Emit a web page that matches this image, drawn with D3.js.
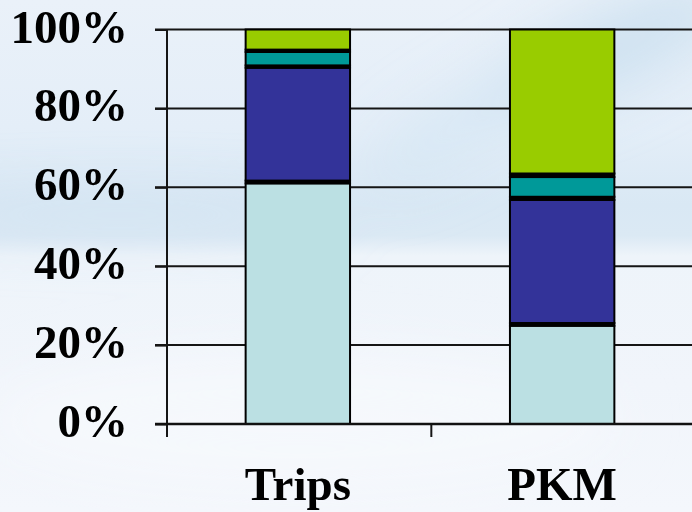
<!DOCTYPE html>
<html>
<head>
<meta charset="utf-8">
<script src="https://cdn.jsdelivr.net/npm/d3@7"></script>
<style>
  html, body { margin: 0; padding: 0; background: #f2f6fb; }
  svg { display: block; }
</style>
</head>
<body>
<svg id="chart" width="692" height="512"></svg>
<script>
// Categories along the x axis
const categories = ["Trips", "PKM"];

// Stack segments, bottom to top (shares in percent)
const seriesNames = ["s1", "s2", "s3", "s4", "s5", "s6", "s7"];
const seriesColors = ["#BBE0E3", "#000000", "#333399", "#000000", "#009999", "#000000", "#99CC00"];
const tripsValues = [61.0, 0.7, 28.6, 0.6, 3.4, 0.6, 5.1];
const pkmValues   = [24.9, 0.7, 31.2, 0.8, 5.0, 0.9, 36.5];

// Y axis tick values and labels
const yTicks = [0, 20, 40, 60, 80, 100];
const yTickLabels = ["0%", "20%", "40%", "60%", "80%", "100%"];

const valuesByCategory = { "Trips": tripsValues, "PKM": pkmValues };
const rows = categories.map(c => {
  const row = { category: c };
  seriesNames.forEach((s, i) => { row[s] = valuesByCategory[c][i]; });
  return row;
});

const svg = d3.select("#chart");
const W = 692, H = 512;
const labelFont = "'Liberation Serif', 'Times New Roman', serif";

// ---- soft slide-style backdrop ----
const defs = svg.append("defs");
const bg = defs.append("linearGradient").attr("id", "bg").attr("x1", 0).attr("y1", 0).attr("x2", 0).attr("y2", 1);
[[0, "#eaf1f9"], [0.25, "#e4eef8"], [0.40, "#d9e8f4"], [0.46, "#dbe9f4"], [0.50, "#eef4fa"], [0.75, "#f1f5fb"], [1, "#f4f7fc"]]
  .forEach(([o, c]) => bg.append("stop").attr("offset", o).attr("stop-color", c));
defs.append("filter").attr("id", "soft").attr("x", "-50%").attr("y", "-50%").attr("width", "200%").attr("height", "200%")
  .append("feGaussianBlur").attr("stdDeviation", 28);

svg.append("rect").attr("width", W).attr("height", H).attr("fill", "url(#bg)");
const haze = svg.append("g").attr("filter", "url(#soft)");
haze.append("ellipse").attr("cx", 610).attr("cy", 50).attr("rx", 140).attr("ry", 40)
  .attr("transform", "rotate(-25 610 50)").attr("fill", "#c9dfef").attr("opacity", 0.8);
haze.append("ellipse").attr("cx", 470).attr("cy", 120).attr("rx", 120).attr("ry", 30)
  .attr("transform", "rotate(-30 470 120)").attr("fill", "#d3e6f3").attr("opacity", 0.7);
haze.append("ellipse").attr("cx", 120).attr("cy", 215).attr("rx", 220).attr("ry", 18)
  .attr("fill", "#d2e4f2").attr("opacity", 0.8);
haze.append("ellipse").attr("cx", 300).attr("cy", 420).attr("rx", 320).attr("ry", 70)
  .attr("fill", "#f6f9fd").attr("opacity", 0.8);

// ---- scales ----
const plotLeft = 167, plotRight = 693, plotTop = 29.5, plotBottom = 424;
const x = d3.scaleBand().domain(categories).range([plotLeft, plotRight])
  .paddingInner(0.605).paddingOuter(0.2975);
const y = d3.scaleLinear().domain([0, 100]).range([plotBottom, plotTop]);

// ---- gridlines (drawn under the bars) ----
svg.append("g")
  .selectAll("line").data(yTicks).join("line")
  .attr("x1", 155).attr("x2", W)
  .attr("y1", d => y(d)).attr("y2", d => y(d))
  .attr("stroke", "#151515").attr("stroke-width", 2);

// ---- stacked bars ----
const stack = d3.stack().keys(seriesNames);
const layers = stack(rows);
svg.append("g")
  .selectAll("g").data(layers).join("g")
  .attr("fill", (d, i) => seriesColors[i])
  .selectAll("rect").data(d => d).join("rect")
  .attr("x", d => x(d.data.category))
  .attr("width", x.bandwidth())
  .attr("y", d => y(d[1]))
  .attr("height", d => y(d[0]) - y(d[1]))
  .attr("stroke", "#000").attr("stroke-width", 2);

// ---- y axis ----
const yAxis = d3.axisLeft(y).tickValues(yTicks)
  .tickFormat((d, i) => yTickLabels[i]).tickSize(12).tickPadding(27);
const gy = svg.append("g").attr("transform", `translate(${plotLeft},0)`).call(yAxis);
gy.select(".domain").remove();
gy.selectAll(".tick line").attr("stroke", "#151515").attr("stroke-width", 2);
gy.selectAll(".tick text")
  .attr("font-family", labelFont)
  .attr("font-weight", "bold").attr("font-size", 47).attr("fill", "#000")
  .attr("dy", 12.5);
svg.append("line").attr("x1", plotLeft).attr("x2", plotLeft)
  .attr("y1", plotTop).attr("y2", plotBottom + 13)
  .attr("stroke", "#151515").attr("stroke-width", 2);

// ---- x axis: tick marks at category boundaries, labels under each bar ----
const boundaries = categories.map(c => x(c) - x.step() * x.paddingOuter());
svg.append("g").selectAll("line").data(boundaries).join("line")
  .attr("x1", d => d).attr("x2", d => d)
  .attr("y1", plotBottom).attr("y2", plotBottom + 13)
  .attr("stroke", "#151515").attr("stroke-width", 2);
svg.append("line").attr("x1", 155).attr("x2", W)
  .attr("y1", plotBottom).attr("y2", plotBottom)
  .attr("stroke", "#111").attr("stroke-width", 2.5);

svg.append("g").selectAll("text").data(categories).join("text")
  .attr("x", d => x(d) + x.bandwidth() / 2)
  .attr("y", 500)
  .attr("text-anchor", "middle")
  .attr("font-family", labelFont)
  .attr("font-weight", "bold").attr("font-size", 47).attr("fill", "#000")
  .text(d => d);
</script>
</body>
</html>
